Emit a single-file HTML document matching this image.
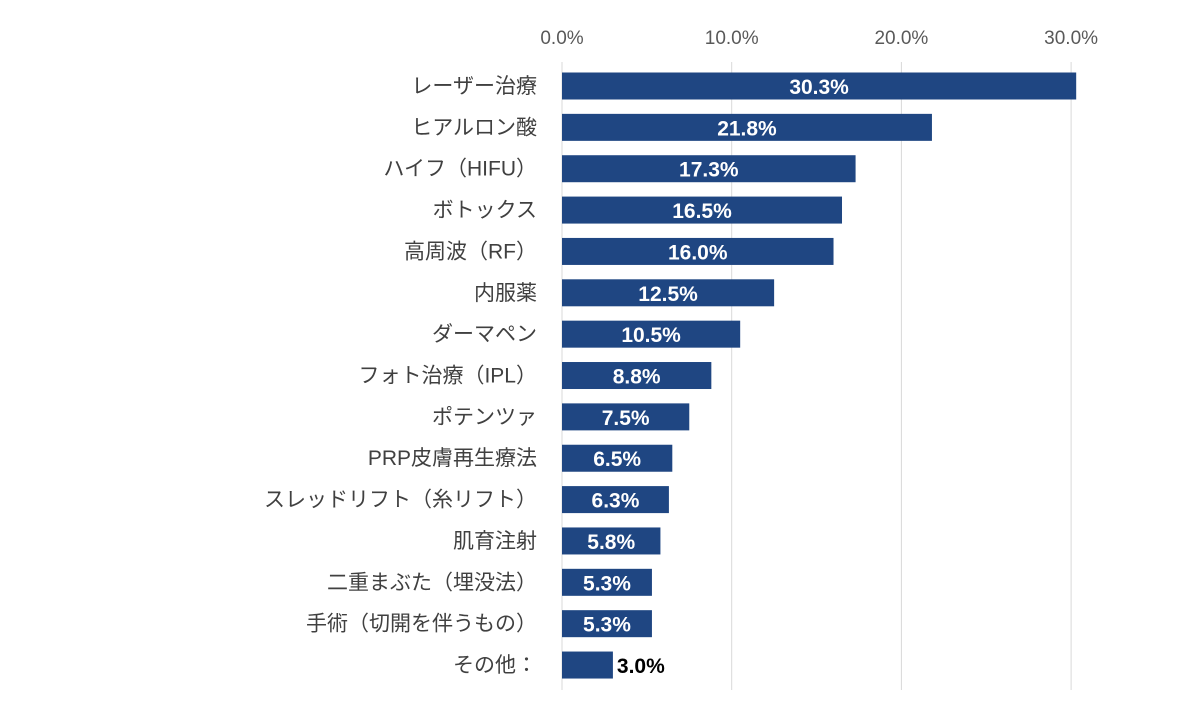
<!DOCTYPE html>
<html><head><meta charset="utf-8"><style>
body{margin:0;background:#fff;}
svg text{font-family:"Liberation Sans","Noto Sans CJK JP",sans-serif;}
</style></head><body>
<svg id="chart" width="1200" height="718" xmlns="http://www.w3.org/2000/svg"></svg>
<script>
const categories=["レーザー治療","ヒアルロン酸","ハイフ（HIFU）","ボトックス","高周波（RF）","内服薬","ダーマペン","フォト治療（IPL）","ポテンツァ","PRP皮膚再生療法","スレッドリフト（糸リフト）","肌育注射","二重まぶた（埋没法）","手術（切開を伴うもの）","その他："];
const values=[30.3,21.8,17.3,16.5,16.0,12.5,10.5,8.8,7.5,6.5,6.3,5.8,5.3,5.3,3.0];
const ticks=[0,10,20,30];
const svg=document.getElementById('chart');
const NS="http://www.w3.org/2000/svg";
const x0=562,pxPer=16.97;
const xs=v=>x0+v*pxPer;
const y0=86,step=41.36,bh=27;
const ys=i=>y0+i*step;
function mk(t,a){const e=document.createElementNS(NS,t);for(const k in a)e.setAttribute(k,a[k]);svg.appendChild(e);return e;}
ticks.forEach(t=>{
  const g=mk('line',{x1:xs(t),x2:xs(t),y1:62,y2:690,stroke:'#d9d9d9','stroke-width':1});
  
  
  const l=mk('text',{x:xs(t),y:44,'text-anchor':'middle','font-size':19,fill:'#595959'});
  l.textContent=t.toFixed(1)+'%';
  
  
});
categories.forEach((c,i)=>{
  const cy=ys(i);
  const r=mk('rect',{x:x0,y:cy-bh/2,width:xs(values[i])-x0,height:bh,fill:'#1f4682'});
  
  
  const l=mk('text',{x:537,y:cy+7,'text-anchor':'end','font-size':21,fill:'#404040'});
  l.textContent=c;
  
  
  const w=xs(values[i])-x0;
  const inside=w>70;
  const v=mk('text',{x:inside?x0+w/2:xs(values[i])+4,y:cy+8,'text-anchor':inside?'middle':'start','font-size':21,'font-weight':'bold',fill:inside?'#fff':'#000'});
  v.textContent=values[i].toFixed(1)+'%';
  
  
});
</script>
</body></html>
